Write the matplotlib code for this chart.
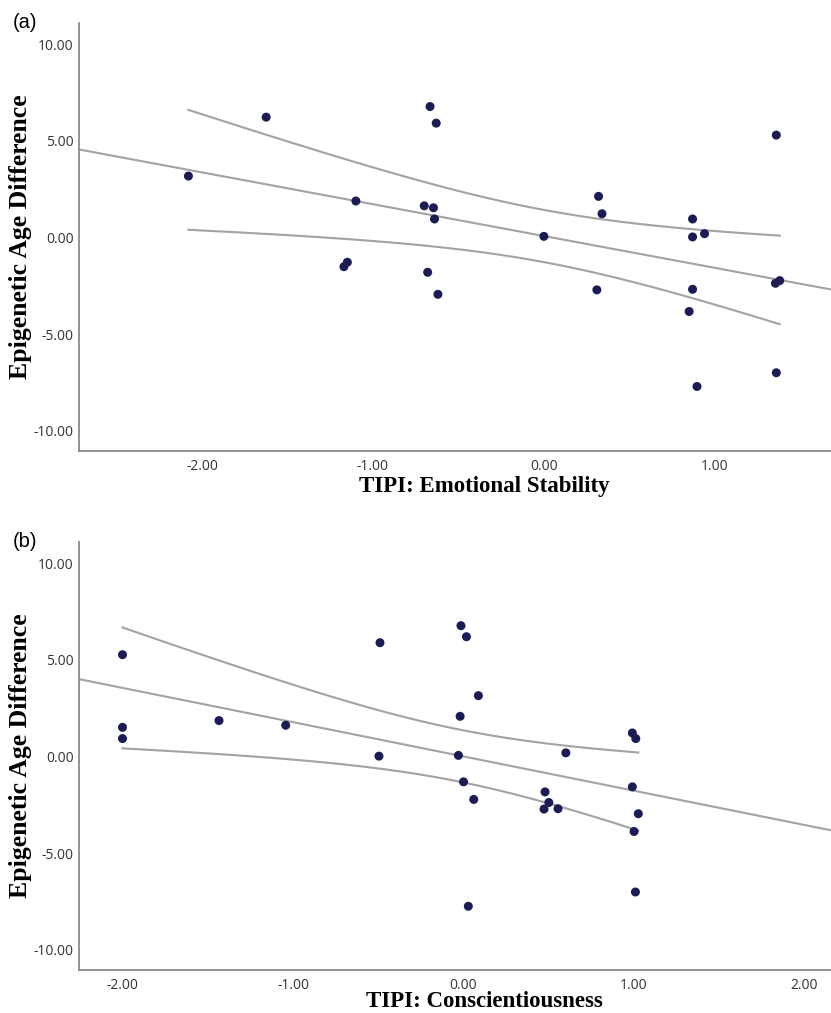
import numpy as np
import matplotlib
matplotlib.use('Agg')
import matplotlib.pyplot as plt

# ---------------- DATA ----------------
# panel (a): TIPI emotional stability (z) vs epigenetic age difference
stab_x = [-2.08, -1.625, -1.10, -1.17, -1.15, -0.666, -0.63, -0.70, -0.646,
          -0.64, -0.68, -0.62, 0.00, 0.32, 0.34, 0.31, 0.87, 0.87, 0.94,
          0.87, 0.85, 0.896, 1.36, 1.36, 1.355, 1.38]
stab_y = [3.18, 6.23, 1.89, -1.51, -1.28, 6.78, 5.92, 1.64, 1.54,
          0.96, -1.80, -2.94, 0.06, 2.13, 1.23, -2.71, 0.96, 0.03, 0.20,
          -2.68, -3.83, -7.71, 5.30, -7.00, -2.37, -2.23]

# panel (b): TIPI conscientiousness (z) vs epigenetic age difference
consc_x = [-2.00, -2.00, -2.00, -1.434, -1.043, -0.49, -0.496, -0.015, 0.017,
           0.087, -0.02, -0.03, 0.60, 0.99, 1.01, 0.00, 0.06, 0.478, 0.50,
           0.472, 0.554, 0.99, 1.025, 1.00, 1.008, 0.028]
consc_y = [5.27, 1.51, 0.93, 1.86, 1.62, 5.89, 0.02, 6.77, 6.20,
           3.15, 2.08, 0.06, 0.19, 1.22, 0.93, -1.31, -2.22, -1.83, -2.38,
           -2.72, -2.70, -1.57, -2.96, -3.88, -7.01, -7.75]

y_ticks = [-10, -5, 0, 5, 10]
stab_ticks = [-2, -1, 0, 1]
consc_ticks = [-2, -1, 0, 1, 2]

T_CRIT = 2.064   # t(0.975, df=24), n = 26

DOT = '#1c1c54'
LINE = '#a3a3a3'
SPINE = '#8a8a8a'


def fit_panel(ax, x, y, xlim, xticks, xlabel, tag, label_y):
    x = np.asarray(x)
    y = np.asarray(y)
    n = len(x)

    # OLS fit + 95% CI of the mean, as SPSS draws it
    slope, icpt = np.polyfit(x, y, 1)
    resid = y - (icpt + slope * x)
    s = np.sqrt(np.sum(resid ** 2) / (n - 2))
    sxx = np.sum((x - x.mean()) ** 2)

    xs_full = np.linspace(xlim[0], xlim[1], 200)
    ax.plot(xs_full, icpt + slope * xs_full, color=LINE, lw=1.5, zorder=2)

    xs = np.linspace(x.min(), x.max(), 200)
    half = T_CRIT * s * np.sqrt(1 / n + (xs - x.mean()) ** 2 / sxx)
    fit = icpt + slope * xs
    ax.plot(xs, fit + half, color=LINE, lw=1.5, zorder=2)
    ax.plot(xs, fit - half, color=LINE, lw=1.5, zorder=2)

    ax.scatter(x, y, s=42, color=DOT, edgecolors='none', zorder=3)

    ax.set_xlim(xlim)
    ax.set_ylim(-11.05, 11.12)
    ax.set_xticks(xticks)
    ax.set_xticklabels([f"{t:.2f}" for t in xticks])
    ax.set_yticks(y_ticks)
    ax.set_yticklabels([f"{t:.2f}" for t in y_ticks])
    ax.tick_params(length=0, labelsize=10, labelcolor='#333333')
    ax.tick_params(axis='x', pad=6)
    ax.tick_params(axis='y', pad=4)
    for lab in ax.get_xticklabels() + ax.get_yticklabels():
        lab.set_family('Open Sans')

    for side in ['top', 'right']:
        ax.spines[side].set_visible(False)
    for side in ['left', 'bottom']:
        ax.spines[side].set_color(SPINE)
        ax.spines[side].set_linewidth(1.3)

    ax.set_xlabel(xlabel, family='Liberation Serif', weight='bold',
                  fontsize=16.5)
    ax.xaxis.set_label_coords(0.539, label_y)
    ax.set_ylabel("Epigenetic Age Difference", family='Liberation Serif',
                  weight='bold', fontsize=18.5)
    ax.yaxis.set_label_coords(-0.062, 0.5)
    ax.text(-0.088, 1.0, tag, transform=ax.transAxes, family='Liberation Sans',
            fontsize=14.5, ha='left', va='center')


fig = plt.figure(figsize=(8.31, 10.13), dpi=100)

ax1 = fig.add_axes([0.0951, 0.5548, 0.9049, 0.4228])
fit_panel(ax1, stab_x, stab_y, (-2.72, 1.68), stab_ticks,
          "TIPI: Emotional Stability", "(a)", -0.058)

ax2 = fig.add_axes([0.0951, 0.0424, 0.9049, 0.4229])
fit_panel(ax2, consc_x, consc_y, (-2.255, 2.155), consc_ticks,
          "TIPI: Conscientiousness", "(b)", -0.050)

fig.savefig("out.png", dpi=100)
